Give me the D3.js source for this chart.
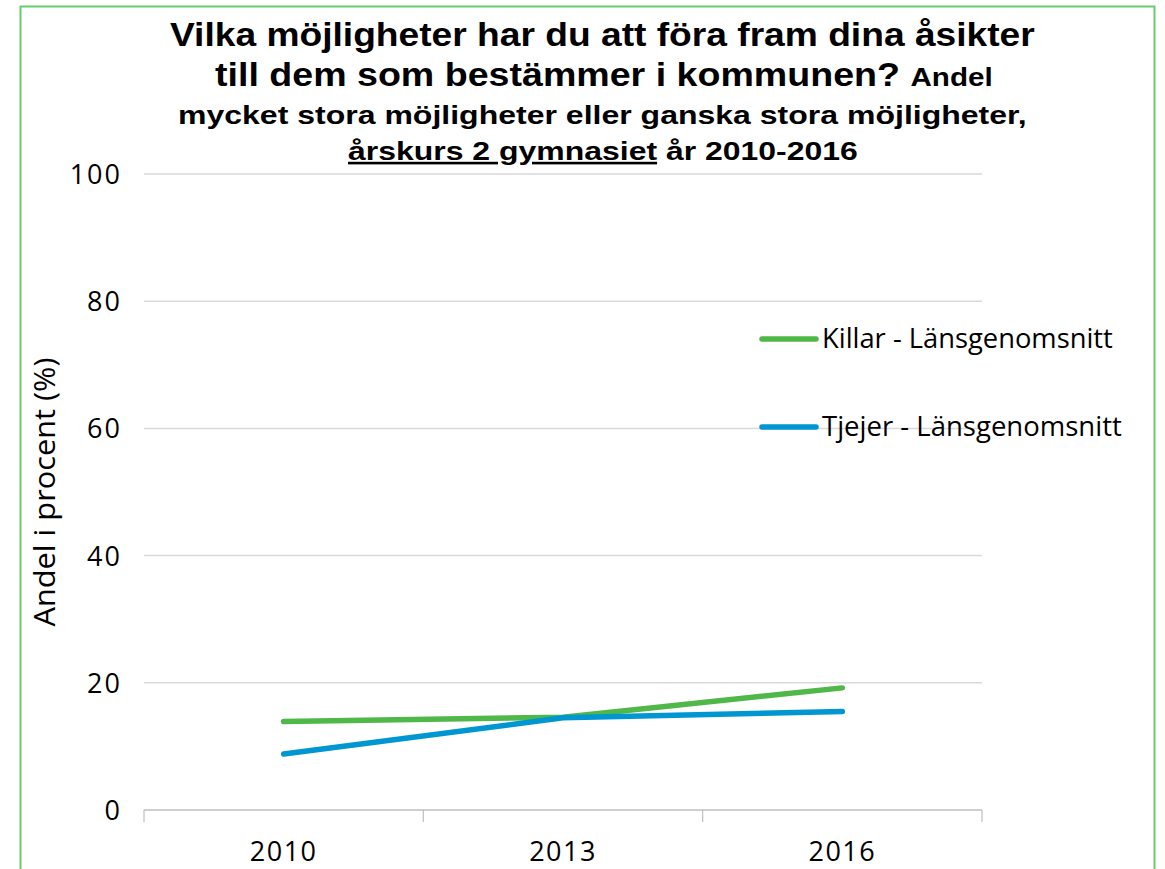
<!DOCTYPE html>
<html>
<head>
<meta charset="utf-8">
<script src="https://cdn.jsdelivr.net/npm/d3@7"></script>
<style>
body { margin: 0; background: #fff; }
svg text { font-family: "Open Sans", "Liberation Sans", sans-serif; fill: #000; }
.title { font-family: "Liberation Sans", Arial, sans-serif !important; font-weight: bold; }
</style>
</head>
<body>
<svg id="chart" width="1165" height="869"></svg>
<script>
var years = ["2010", "2013", "2016"];
var killar = [13.9, 14.6, 19.2];
var tjejer = [8.8, 14.5, 15.5];
var yTicks = [0, 20, 40, 60, 80, 100];
var seriesNames = ["Killar - Länsgenomsnitt", "Tjejer - Länsgenomsnitt"];
var seriesColors = ["#50b848", "#0096d1"];

var svg = d3.select("#chart");
var plot = { left: 144, right: 982, top: 174, bottom: 810 };

// stretch a text horizontally so it covers the given width
function fit(sel, x, y, width, anchor){
	var w = sel.node().getComputedTextLength();
	var sx = width / w;
	sel.attr("x", 0).attr("y", 0).attr("text-anchor", anchor)
		.attr("transform", "translate(" + x + "," + y + ") scale(" + sx + ",1)");
	return sel;
}

// frame
svg.append("rect")
	.attr("x", 20.5).attr("y", 6.5)
	.attr("width", 1134).attr("height", 900)
	.style("fill", "none").style("stroke", "#6acb6a").style("stroke-width", 2);

var x = d3.scaleBand().domain(years).range([plot.left, plot.right]);
var y = d3.scaleLinear().domain([0, 100]).range([plot.bottom, plot.top]);

// gridlines
svg.append("g").selectAll("line").data(yTicks.filter(function(d){ return d > 0; }))
	.enter().append("line")
	.attr("x1", plot.left).attr("x2", plot.right)
	.attr("y1", function(d){ return y(d); }).attr("y2", function(d){ return y(d); })
	.style("stroke", "#d9d9d9").style("stroke-width", 1.5);

// y labels
svg.append("g").selectAll("text").data(yTicks)
	.enter().append("text")
	.attr("x", 122).attr("y", function(d){ return y(d) + 10; })
	.attr("text-anchor", "end")
	.style("font-size", "27px").style("letter-spacing", "2px")
	.text(function(d){ return d; });

// x axis
var xAxis = d3.axisBottom(x).tickSize(0).tickFormat(function(d){ return d; });
var gx = svg.append("g").attr("transform", "translate(0," + plot.bottom + ")").call(xAxis);
gx.select(".domain").remove();
gx.selectAll(".tick text").attr("y", 51).attr("dy", 0)
	.style("font-size", "27px").style("letter-spacing", "1.5px").style("fill", "#000")
	.style("font-family", "'Open Sans', sans-serif");
svg.append("line").attr("x1", plot.left).attr("x2", plot.right)
	.attr("y1", plot.bottom).attr("y2", plot.bottom)
	.style("stroke", "#bfbfbf").style("stroke-width", 1.5);
var bounds = years.map(function(d){ return x(d); }).concat([x(years[years.length-1]) + x.bandwidth()]);
svg.append("g").selectAll("line").data(bounds).enter().append("line")
	.attr("x1", function(d){ return d; }).attr("x2", function(d){ return d; })
	.attr("y1", plot.bottom).attr("y2", plot.bottom + 12)
	.style("stroke", "#bfbfbf").style("stroke-width", 1.2);

// y title
var yt = svg.append("text").style("font-size", "30px").text("Andel i procent (%)");
var ytw = yt.node().getComputedTextLength();
yt.attr("text-anchor", "middle")
	.attr("transform", "translate(55,492) rotate(-90) scale(" + (269 / ytw) + ",1)");

// lines
var line = d3.line()
	.x(function(d, i){ return x(years[i]) + x.bandwidth()/2; })
	.y(function(d){ return y(d); });

[killar, tjejer].forEach(function(s, i){
	svg.append("path").datum(s)
		.attr("d", line)
		.style("fill", "none")
		.style("stroke", seriesColors[i])
		.style("stroke-width", 5.5)
		.style("stroke-linecap", "round")
		.style("stroke-linejoin", "round");
});

// legend
var legendWidths = [291, 300];
var legend = svg.append("g");
seriesNames.forEach(function(n, i){
	var ly = 339 + i * 88;
	legend.append("line")
		.attr("x1", 762).attr("x2", 816).attr("y1", ly).attr("y2", ly)
		.style("stroke", seriesColors[i]).style("stroke-width", 5.5).style("stroke-linecap", "round");
	var t = legend.append("text").style("font-size", "27px").text(n);
	fit(t, 822, ly + 9, legendWidths[i], "start");
});

// title
var t1 = svg.append("text").attr("class", "title").style("font-size", "33px")
	.text("Vilka möjligheter har du att föra fram dina åsikter");
fit(t1, 170, 46, 865, "start");
var t2 = svg.append("text").attr("class", "title").style("font-size", "33px");
t2.append("tspan").text("till dem som bestämmer i kommunen? ");
t2.append("tspan").style("font-size", "26px").text("Andel");
fit(t2, 215, 86, 778, "start");
var t3 = svg.append("text").attr("class", "title").style("font-size", "26px")
	.text("mycket stora möjligheter eller ganska stora möjligheter,");
fit(t3, 178, 124, 849, "start");
var t4 = svg.append("text").attr("class", "title").style("font-size", "26px");
t4.append("tspan").style("text-decoration", "underline").text("årskurs 2 gymnasiet");
t4.append("tspan").text(" år 2010-2016");
fit(t4, 348, 160, 510, "start");
</script>
</body>
</html>
